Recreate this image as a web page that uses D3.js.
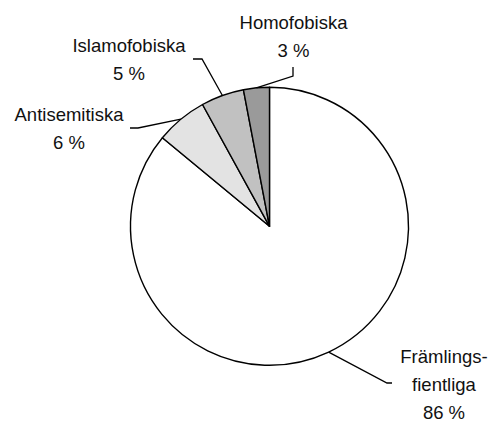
<!DOCTYPE html>
<html>
<head>
<meta charset="utf-8">
<script src="https://cdnjs.cloudflare.com/ajax/libs/d3/7.8.5/d3.min.js"></script>
<style>
  html, body { margin: 0; padding: 0; background: #fff; }
  svg { display: block; }
</style>
</head>
<body>
<div id="chart"></div>
<script>
// data
const categories = ["Främlingsfientliga", "Antisemitiska", "Islamofobiska", "Homofobiska"];
const values = [86, 6, 5, 3];
const labelLines = [["Främlings-", "fientliga", "86 %"], ["Antisemitiska", "6 %"], ["Islamofobiska", "5 %"], ["Homofobiska", "3 %"]];
const fills = ["#ffffff", "#e3e3e3", "#c1c1c1", "#9a9a9a"];

const width = 492, height = 423;
const cx = 269.5, cy = 226.3, r = 139;

// label placement: elbow of leader, end of leader, text anchor x, first baseline y
const labelPos = [
  { elbow: [387, 383], end: [392, 383], tx: 444, ty: 363 },
  { elbow: [138, 128], end: [130, 128], tx: 69, ty: 121 },
  { elbow: [202, 59], end: [193, 59], tx: 129, ty: 52 },
  { elbow: [293, 76], end: [293, 67], tx: 293.5, ty: 29 }
];
const lineGap = 28;

const svg = d3.select("#chart").append("svg")
  .attr("width", width)
  .attr("height", height);

const pie = d3.pie().sort(null).value(d => d);
const arcs = pie(values);
const arc = d3.arc().innerRadius(0).outerRadius(r);

const g = svg.append("g").attr("transform", `translate(${cx},${cy})`);

g.selectAll("path.slice")
  .data(arcs)
  .enter().append("path")
  .attr("class", "slice")
  .attr("d", arc)
  .attr("fill", (d, i) => fills[i])
  .attr("stroke", "#000")
  .attr("stroke-width", 1.4)
  .attr("stroke-linejoin", "round");

// leader lines + labels
arcs.forEach((d, i) => {
  const a = (d.startAngle + d.endAngle) / 2;
  const p0 = [cx + r * Math.sin(a), cy - r * Math.cos(a)];
  const lp = labelPos[i];
  svg.append("polyline")
    .attr("points", [p0, lp.elbow, lp.end].map(p => p.join(",")).join(" "))
    .attr("fill", "none")
    .attr("stroke", "#000")
    .attr("stroke-width", 1.3);

  const t = svg.append("text")
    .attr("text-anchor", "middle")
    .style("font-family", "'Liberation Sans', Arial, Helvetica, sans-serif")
    .style("font-size", "18.5px")
    .attr("fill", "#111");
  labelLines[i].forEach((s, j) => {
    t.append("tspan")
      .attr("x", lp.tx)
      .attr("y", lp.ty + j * lineGap)
      .text(s);
  });
});
</script>
</body>
</html>
